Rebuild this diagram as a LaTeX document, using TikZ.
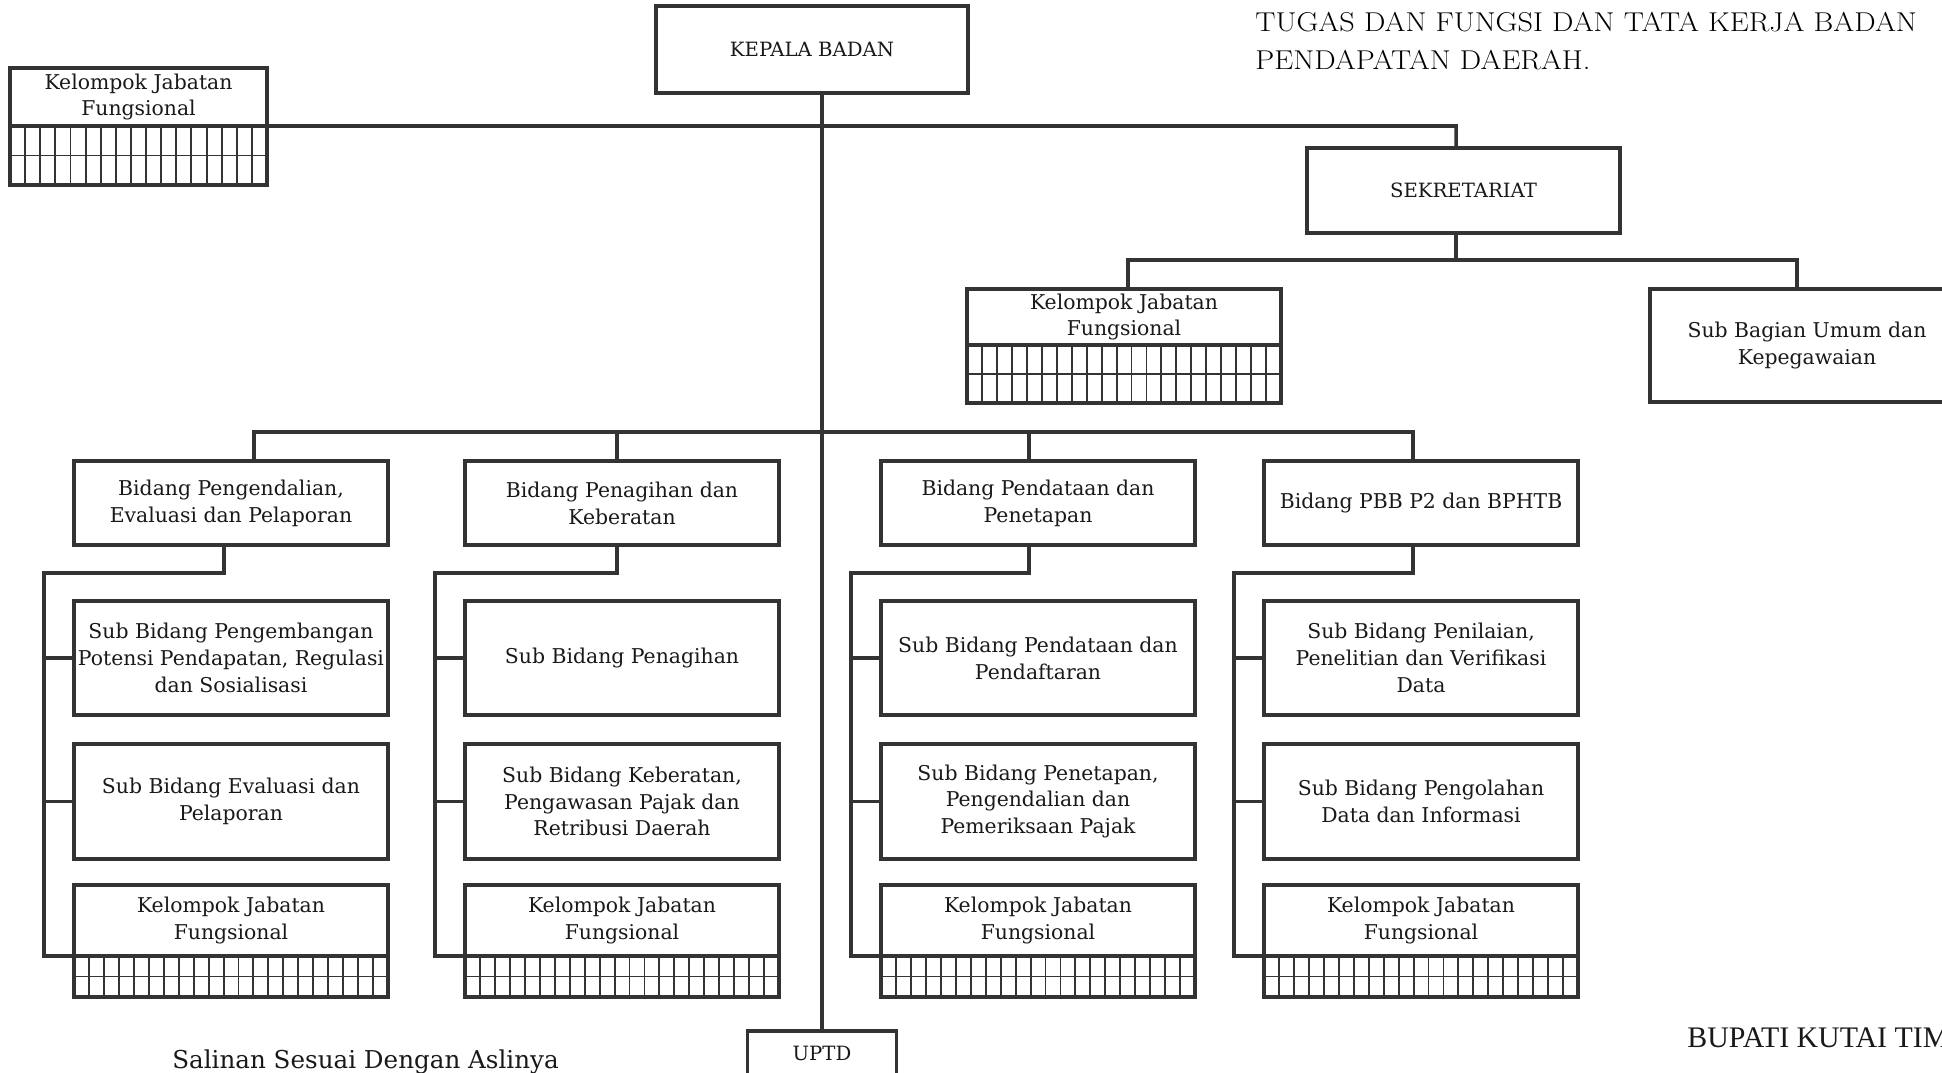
\documentclass[tikz,border=0pt]{standalone}
\usepackage{fontspec}
\usepackage{tikz}
\usetikzlibrary{calc}
\newfontfamily\boxfont{DejaVu Serif}
\newfontfamily\signfont{Liberation Serif}
\definecolor{ink}{HTML}{333333}

\begin{document}
\begin{tikzpicture}[x=0.02cm,y=-0.02cm,
  box/.style={draw=ink,line width=2pt,fill=white,align=center,inner sep=0pt,outer sep=0pt,
    minimum width=6.28cm,text=black!90,font=\boxfont\fontsize{11.6}{15.3}\selectfont},
  caps/.style={font=\boxfont\fontsize{11.2}{13}\selectfont},
  link/.style={draw=ink,line width=2pt},
  petak/.style={draw=ink,line width=1.1pt}]
  \useasboundingbox (0,0) rectangle (1942,1072);
  \clip (0,0) rectangle (1942,1072);
  % pimpinan dan sekretariat
  \node[box,caps,minimum width=6.24cm,minimum height=1.74cm](kb) at (812,49.5){KEPALA BADAN};
  \node[box,caps,minimum width=6.26cm,minimum height=1.7cm](sek) at (1463.5,190.5){SEKRETARIAT};
  \node[box,minimum width=5.14cm,minimum height=1.16cm](k0) at (138.5,97){Kelompok Jabatan\\Fungsional};
  \node[box,minimum height=1.12cm](kt) at (1124,317){Kelompok Jabatan\\Fungsional};
  \node[box,minimum height=2.26cm](sb) at (1807,345.5){Sub Bagian Umum dan\\Kepegawaian};
  \node[box,caps,minimum width=2.98cm,minimum height=0.88cm](up) at (822,1053){UPTD};
  % bidang
  \node[box,minimum height=1.68cm](b1) at (231,503){Bidang Pengendalian,\\Evaluasi dan Pelaporan};
  \node[box,minimum height=1.68cm](b2) at (622,503){Bidang Penagihan dan\\Keberatan};
  \node[box,minimum height=1.68cm](b3) at (1038,503){Bidang Pendataan dan\\Penetapan};
  \node[box,minimum height=1.68cm](b4) at (1421,503){Bidang PBB P2 dan BPHTB};
  % sub bidang
  \node[box,minimum height=2.28cm](p1) at (231,658){Sub Bidang Pengembangan\\Potensi Pendapatan, Regulasi\\dan Sosialisasi};
  \node[box,minimum height=2.28cm](p2) at (622,658){Sub Bidang Penagihan};
  \node[box,minimum height=2.28cm](p3) at (1038,658){Sub Bidang Pendataan dan\\Pendaftaran};
  \node[box,minimum height=2.28cm](p4) at (1421,658){Sub Bidang Penilaian,\\Penelitian dan Verifikasi\\Data};
  \node[box,minimum height=2.3cm](q1) at (231,801.5){Sub Bidang Evaluasi dan\\Pelaporan};
  \node[box,minimum height=2.3cm](q2) at (622,801.5){Sub Bidang Keberatan,\\Pengawasan Pajak dan\\Retribusi Daerah};
  \node[box,minimum height=2.3cm](q3) at (1038,801.5){Sub Bidang Penetapan,\\Pengendalian dan\\Pemeriksaan Pajak};
  \node[box,minimum height=2.3cm](q4) at (1421,801.5){Sub Bidang Pengolahan\\Data dan Informasi};
  % kelompok jabatan fungsional
  \node[box,minimum height=1.42cm](k1) at (231,920.5){Kelompok Jabatan\\Fungsional};
  \node[box,minimum height=1.42cm](k2) at (622,920.5){Kelompok Jabatan\\Fungsional};
  \node[box,minimum height=1.42cm](k3) at (1038,920.5){Kelompok Jabatan\\Fungsional};
  \node[box,minimum height=1.42cm](k4) at (1421,920.5){Kelompok Jabatan\\Fungsional};
  \foreach \k/\w/\h/\m in {k0/257/59/17,kt/314/58/21,k1/314/41/21,k2/314/41/21,k3/314/41/21,k4/314/41/21}{
    \draw[petak] (\k.south west) ++(0,\h/2) -- +(\w,0);
    \foreach \i in {1,...,\m}
      \draw[petak] (\k.south west) ++(\i*\w/\m,0) -- +(0,\h);
    \draw[link] (\k.south west) rectangle +(\w,\h);
  }
  % garis
  \draw[link] (kb.south -| up.north) -- (up.north);
  \coordinate (t) at (1456,126);
  \draw[link] (k0.south east) -- (t) -- (sek.north -| t);
  \coordinate (s) at (1456,260);
  \draw[link] (sek.south -| s) -- (s);
  \draw[link] ($(kt.north)+(4,0)$) |- (s) -| ($(sb.north)+(-10,0)$);
  \coordinate (bl) at (254,432);
  \coordinate (br) at (1413,432);
  \draw[link] (b1.north -| bl) -- (bl) -- (br) -- (b4.north -| br);
  \foreach \n/\dx in {2/-5,3/-9}
    \draw[link] ($(b\n.north)+(\dx,0)$) -- ++(0,-29);
  \foreach \n/\sx in {1/-7,2/-5,3/-9,4/-8}{
    \draw[link] ($(b\n.south)+(\sx,0)$) -- ++(0,28) -| ($(k\n.south west)+(-30,0)$) -- (k\n.south west);
    \draw[link] (p\n.west) -- ++(-30,0);
    \draw[link] (q\n.west) -- ++(-30,0);
  }
  % teks lepas
  \begin{scope}[shift={(1255,12)},xscale=1.11,transform shape]
    \node[anchor=north west,inner sep=0,align=left,text=black,font=\fontsize{15.5}{21.5}\selectfont](judul) at (0,0){TUGAS DAN FUNGSI DAN TATA KERJA BADAN\\PENDAPATAN DAERAH.};
  \end{scope}
  \node[anchor=base west,inner sep=0,text=black!90,font=\boxfont\fontsize{14}{16}\selectfont](salin) at (172,1068){Salinan Sesuai Dengan Aslinya};
  \node[anchor=base west,inner sep=0,text=black!90,font=\signfont\fontsize{17}{20}\selectfont](bupati) at (1687,1047){BUPATI KUTAI TIM};
\end{tikzpicture}
\end{document}
